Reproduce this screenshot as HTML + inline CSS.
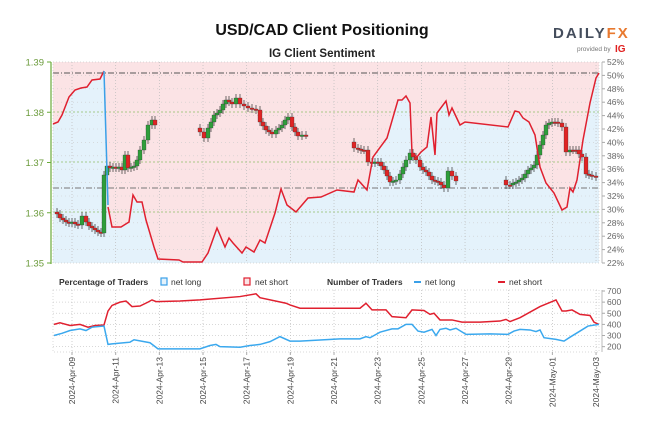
<!DOCTYPE html>
<html><head><meta charset="utf-8"><style>
body{margin:0;background:#fff;width:650px;height:433px;overflow:hidden;font-family:"Liberation Sans",sans-serif}
</style></head><body>
<svg id="s" width="650" height="433" xmlns="http://www.w3.org/2000/svg" font-family="Liberation Sans, sans-serif">
<rect width="650" height="433" fill="#fff"/>
<text x="322" y="35" font-size="16" font-weight="bold" text-anchor="middle" fill="#111">USD/CAD Client Positioning</text>
<text x="322" y="57" font-size="11.5" font-weight="bold" text-anchor="middle" fill="#222">IG Client Sentiment</text>
<text x="553" y="38" font-size="15" font-weight="bold" fill="#444d5c" letter-spacing="2">DAILY<tspan fill="#e8792f">FX</tspan></text>
<text x="577" y="51" font-size="6.5" fill="#777">provided by</text>
<text x="615" y="52" font-size="10" font-weight="bold" fill="#e02020">IG</text>
<g id="main"></g>
<g id="low"></g>
</svg>
<script>
const NS="http://www.w3.org/2000/svg";
function el(p,t,a,txt){const e=document.createElementNS(NS,t);for(const k in a)e.setAttribute(k,a[k]);if(txt!==undefined)e.textContent=txt;p.appendChild(e);return e;}
const M=document.getElementById('main'),L=document.getElementById('low');
const X0=53,X1=599,Y0=62,Y1=263;
el(M,'rect',{x:X0,y:Y0,width:X1-X0,height:Y1-Y0,fill:'#e4f2fb'});
const red=[[53,124],[58,122],[62,115],[69,97],[75,90],[81,88],[87,87],[92,80],[100,79],[104,71],[108,207],[112,227],[121,227],[129,222],[133,195],[137,202],[142,202],[146,220],[154,247],[158,259],[179,260],[183,262],[202,262],[208,253],[217,228],[225,247],[229,238],[233,243],[242,253],[246,247],[254,252],[260,240],[265,243],[275,213],[281,189],[287,205],[296,212],[308,198],[321,197],[337,190],[354,192],[358,180],[367,190],[373,157],[387,138],[398,100],[402,100],[406,96],[410,103],[412,153],[417,157],[421,152],[427,147],[431,117],[435,155],[437,113],[446,101],[449,115],[452,108],[460,125],[465,122],[508,127],[515,111],[519,112],[523,118],[529,122],[535,135],[540,167],[546,183],[554,193],[562,210],[567,207],[570,188],[573,192],[577,180],[583,140],[590,103],[596,78],[599,73]];
let poly=`${X0},${Y0} `+red.map(p=>p.join(',')).join(' ')+` ${X1},${Y0}`;
el(M,'polygon',{points:poly,fill:'#fbe3e5'});
[112,162,212].forEach(y=>el(M,'line',{x1:X0,x2:X1,y1:y,y2:y,stroke:'#8fbf6a','stroke-dasharray':'2,2','stroke-width':0.8}));
for(let i=1;i<15;i++){let y=Y0+i*(Y1-Y0)/15;el(M,'line',{x1:X0,x2:X1,y1:y,y2:y,stroke:'#ccc','stroke-dasharray':'1,3','stroke-width':0.6});}
const dx=[];for(let k=0;k<13;k++)dx.push(72+k*43.67);
dx.forEach(x=>{el(M,'line',{x1:x,x2:x,y1:Y0,y2:Y1,stroke:'#bbb','stroke-dasharray':'1,2','stroke-width':0.7});});
el(M,'line',{x1:X0,x2:X1,y1:73,y2:73,stroke:'#555','stroke-dasharray':'6,2,1,2','stroke-width':1});
el(M,'line',{x1:X0,x2:X1,y1:188,y2:188,stroke:'#777','stroke-dasharray':'6,2,1,2','stroke-width':1});
el(M,'rect',{x:X0,y:Y0,width:X1-X0,height:Y1-Y0,fill:'none',stroke:'#ccc','stroke-dasharray':'1,2','stroke-width':0.7});
const segs=[[[54,212],[57,214],[60,218],[63,220],[66,222],[69,223],[72,222],[75,224],[78,225],[82,216],[86,222],[89,226],[92,228],[95,230],[98,232],[101,233],[104,175],[107,166],[110,168],[113,167],[116,168],[119,167],[122,170],[125,155],[128,168],[131,167],[134,166],[137,160],[140,150],[144,140],[148,125],[152,120],[155,125]],
[[196,128],[200,132],[204,138],[208,128],[211,122],[214,115],[217,113],[220,110],[223,104],[226,100],[229,102],[232,104],[236,98],[240,104],[244,106],[248,108],[252,109],[256,110],[260,122],[263,126],[266,130],[269,132],[272,134],[276,130],[279,128],[282,125],[285,120],[288,117],[292,127],[295,132],[298,136],[302,135],[306,135]],
[[350,142],[354,148],[358,149],[361,150],[364,150],[368,162],[372,163],[375,162],[378,162],[381,166],[384,170],[387,176],[390,182],[393,181],[396,180],[400,174],[403,167],[406,160],[410,153],[413,157],[416,160],[420,167],[423,170],[426,172],[429,176],[432,180],[435,181],[438,182],[441,185],[444,188],[448,171],[452,176],[456,181]],
[[502,180],[506,185],[510,185],[513,183],[516,182],[519,180],[522,178],[525,174],[528,170],[531,168],[534,165],[537,155],[540,145],[543,135],[546,125],[549,123],[552,122],[555,122],[558,123],[562,127],[566,152],[570,150],[573,150],[576,150],[579,154],[582,157],[586,174],[589,175],[592,176],[596,177]]];
segs.forEach(s=>{for(let i=1;i<s.length;i++){const o=s[i-1][1],c=s[i][1],x=s[i][0];const up=c<o;const col=up?'#2e9e3a':'#e02424';const t=Math.min(o,c),b=Math.max(o,c);
el(M,'line',{x1:x,x2:x,y1:t-4,y2:b+4,stroke:'#333','stroke-width':0.7});
el(M,'rect',{x:x-2,y:t,width:4,height:Math.max(1.5,b-t),fill:col,stroke:'#333','stroke-width':0.3});}});
el(M,'polyline',{points:red.slice(0,10).map(p=>p.join(',')).join(' '),fill:'none',stroke:'#e0202f','stroke-width':1.5});
el(M,'polyline',{points:'104,71 108,205',fill:'none',stroke:'#3aa0e8','stroke-width':1.5});
el(M,'polyline',{points:red.slice(10).map(p=>p.join(',')).join(' '),fill:'none',stroke:'#e0202f','stroke-width':1.5});
el(M,'line',{x1:51,x2:51,y1:Y0,y2:Y1+1,stroke:'#6aab3a','stroke-width':1.2});
['1.39','1.38','1.37','1.36','1.35'].forEach((t,i)=>{let y=Y0+i*50.25;el(M,'line',{x1:47,x2:51,y1:y,y2:y,stroke:'#6aab3a'});el(M,'text',{x:44,y:y+3.5,'font-size':9.5,'text-anchor':'end',fill:'#6a9a3a'},t);});
el(M,'line',{x1:602,x2:602,y1:Y0,y2:Y1,stroke:'#aaa','stroke-width':0.8});
for(let i=0;i<16;i++){let v=52-2*i,y=Y0+i*(Y1-Y0)/15;el(M,'line',{x1:602,x2:605,y1:y,y2:y,stroke:'#aaa'});el(M,'text',{x:607,y:y+3,'font-size':8.5,fill:'#666'},v+'%');}
const lg=el(L,'g',{'font-size':8.5,fill:'#333'});
el(lg,'text',{x:59,y:285,'font-weight':'bold'},'Percentage of Traders');
el(lg,'rect',{x:161,y:278,width:6,height:7,fill:'#e4f2fb',stroke:'#3aa0e8','stroke-width':1.2});
el(lg,'text',{x:171,y:285},'net long');
el(lg,'rect',{x:244,y:278,width:6,height:7,fill:'#fbe3e5',stroke:'#e0202f','stroke-width':1.2});
el(lg,'text',{x:255,y:285},'net short');
el(lg,'text',{x:327,y:285,'font-weight':'bold'},'Number of Traders');
el(lg,'line',{x1:414,x2:421,y1:282,y2:282,stroke:'#3aa0e8','stroke-width':2});
el(lg,'text',{x:425,y:285},'net long');
el(lg,'line',{x1:498,x2:505,y1:282,y2:282,stroke:'#e0202f','stroke-width':2});
el(lg,'text',{x:509,y:285},'net short');
const LY=v=>291+(700-v)*0.1113;
const B0=290,B1=352;
el(L,'rect',{x:X0,y:B0,width:X1-X0,height:B1-B0,fill:'none',stroke:'#ccc','stroke-dasharray':'1,2','stroke-width':0.7});
[600,500,400,300,200].forEach(v=>el(L,'line',{x1:X0,x2:X1,y1:LY(v),y2:LY(v),stroke:'#ccc','stroke-dasharray':'1,2','stroke-width':0.7}));
dx.forEach(x=>el(L,'line',{x1:x,x2:x,y1:B0,y2:B1,stroke:'#bbb','stroke-dasharray':'1,2','stroke-width':0.7}));
el(L,'line',{x1:602,x2:602,y1:B0,y2:B1,stroke:'#aaa','stroke-width':0.8});
[700,600,500,400,300,200].forEach(v=>{let y=LY(v);el(L,'line',{x1:602,x2:605,y1:y,y2:y,stroke:'#aaa'});el(L,'text',{x:607,y:y+3,'font-size':8.5,fill:'#666'},v);});
const lr=[[54,400],[60,415],[70,390],[80,400],[88,375],[95,390],[104,395],[108,520],[112,570],[120,600],[126,610],[132,560],[140,565],[148,600],[152,620],[156,605],[180,610],[200,620],[240,650],[256,675],[260,640],[286,590],[290,575],[300,545],[320,545],[360,545],[366,590],[372,530],[386,530],[392,470],[406,460],[412,530],[424,525],[430,490],[434,500],[440,440],[452,440],[462,420],[480,420],[500,430],[506,445],[510,425],[520,460],[540,560],[556,620],[562,520],[566,520],[572,530],[580,490],[590,480],[594,420],[599,400]];
const lb=[[54,300],[62,320],[70,345],[80,360],[86,345],[92,375],[104,385],[108,220],[112,225],[130,240],[134,262],[150,235],[158,180],[200,180],[210,210],[216,220],[220,200],[240,195],[250,210],[260,220],[270,245],[280,290],[290,250],[300,250],[340,270],[360,270],[366,290],[370,280],[380,330],[392,360],[398,360],[406,400],[412,400],[418,340],[424,330],[432,355],[436,300],[440,355],[446,365],[450,350],[456,365],[466,310],[490,315],[508,310],[514,340],[520,355],[530,350],[536,335],[540,350],[544,280],[556,265],[564,250],[570,285],[580,340],[588,385],[599,400]];
el(L,'polyline',{points:lr.map(p=>p[0]+','+LY(p[1])).join(' '),fill:'none',stroke:'#e0202f','stroke-width':1.5});
el(L,'polyline',{points:lb.map(p=>p[0]+','+LY(p[1])).join(' '),fill:'none',stroke:'#3aa8ee','stroke-width':1.5});
const names=['2024-Apr-09','2024-Apr-11','2024-Apr-13','2024-Apr-15','2024-Apr-17','2024-Apr-19','2024-Apr-21','2024-Apr-23','2024-Apr-25','2024-Apr-27','2024-Apr-29','2024-May-01','2024-May-03'];
dx.forEach((x,i)=>{el(L,'line',{x1:x,x2:x,y1:B1,y2:B1+3,stroke:'#aaa'});el(L,'text',{x:0,y:0,'font-size':8.5,fill:'#444','text-anchor':'end',transform:`translate(${x+3},${B1+5}) rotate(-90)`},names[i]);});
</script>
</body></html>
